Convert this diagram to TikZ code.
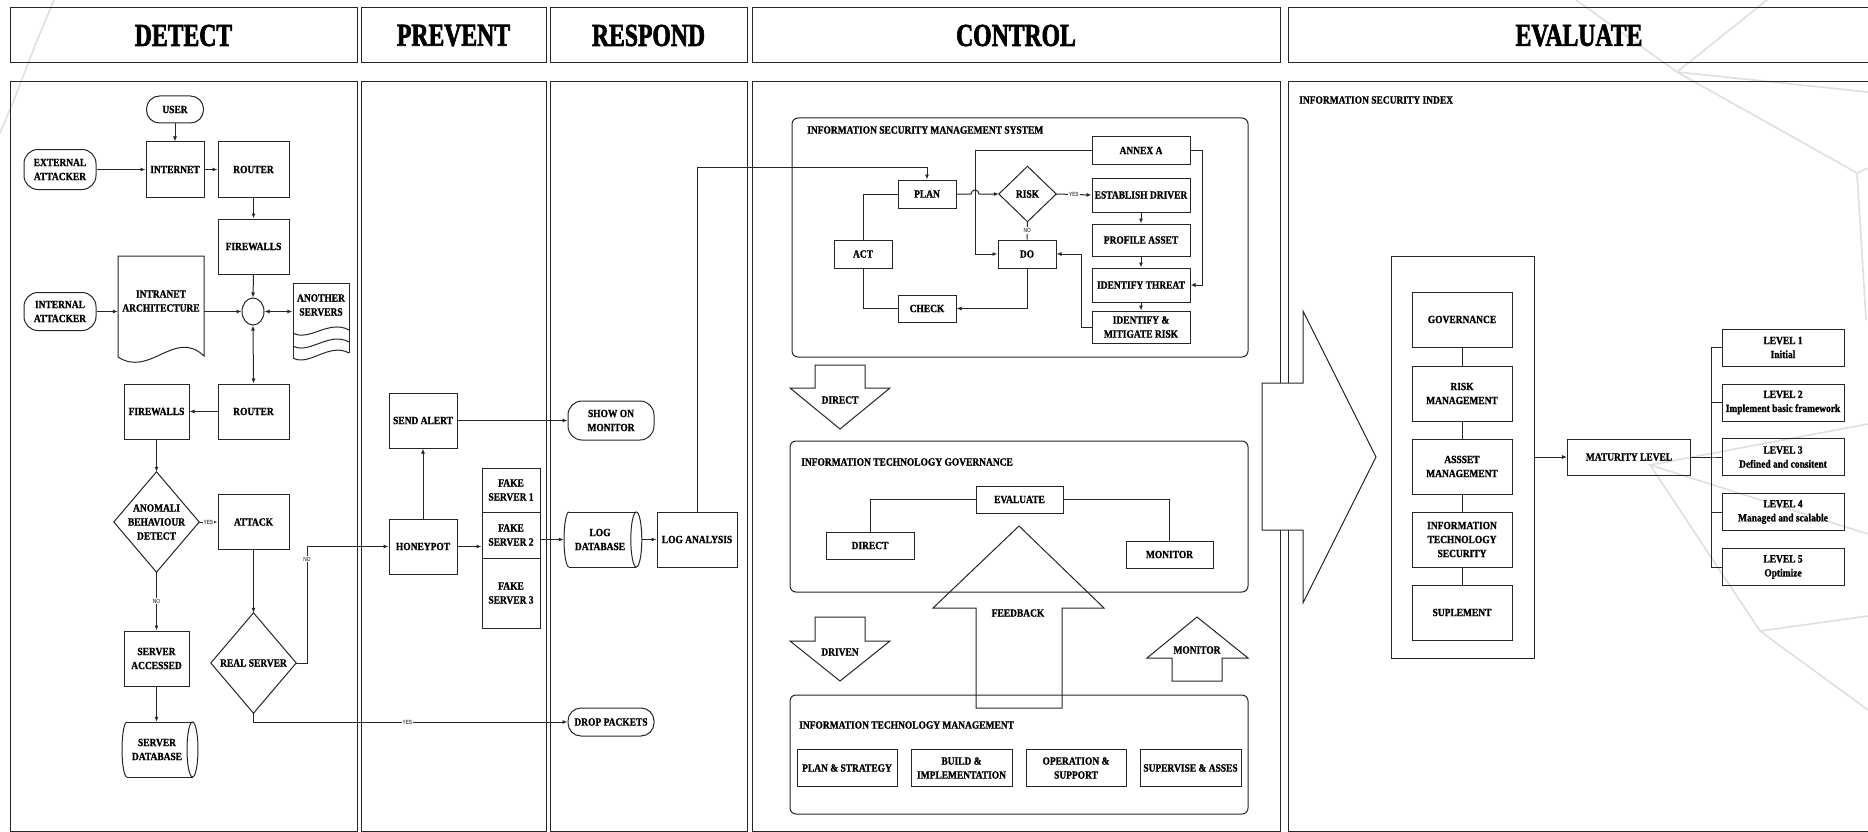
\documentclass[tikz,border=0pt]{standalone}
\usepackage{fontspec}
\setmainfont{Liberation Serif}[BoldFont={Liberation Serif Bold}, FakeStretch=0.86]
\newfontfamily\hdfont{Liberation Serif Bold}[FakeStretch=0.74, FakeBold=2]
\newfontfamily\nbfont{Liberation Serif Bold}[FakeStretch=0.86, FakeBold=1.2]
\newfontfamily\tagfont{Liberation Sans}[FakeStretch=0.8]
\usetikzlibrary{arrows.meta,shapes.geometric}
\tikzset{
  ink/.style={draw=black!85, line width=1pt},
  nfont/.style={font=\nbfont\fontsize{11}{14}\selectfont},
  bx/.style 2 args={ink, rectangle, inner sep=0pt, align=center, minimum width=#1, minimum height=#2, nfont},
  pill/.style 2 args={bx={#1}{#2}, rounded corners=14pt},
  frm/.style 2 args={rectangle, inner sep=0pt, align=center, minimum width=#1, minimum height=#2, nfont},
  txt/.style={inner sep=0pt, align=center, nfont},
  ttl/.style={anchor=west, inner sep=0pt, nfont},
  hdr/.style={ink, inner sep=0pt, minimum height=55, font=\hdfont\fontsize{32}{36}\selectfont},
  arr/.style={ink, -{Latex[length=5pt,width=4pt]}},
  darr/.style={ink, {Latex[length=5pt,width=4pt]}-{Latex[length=5pt,width=4pt]}},
  con/.style={ink},
  tag/.style={fill=white, inner sep=1pt, font=\tagfont\fontsize{6}{7}\selectfont},
  net/.style={draw=gray!25, line width=1.6pt, line cap=round},
}
\begin{document}
\begin{tikzpicture}[x=1pt,y=-1pt]
\useasboundingbox (0,0) rectangle (1868,832);
\clip (0,0) rectangle (1868,832);
\fill[white] (0,0) rectangle (1868,832);

% faint network drawn behind everything
\draw[net] (54,0) -- (36,43) -- (14,100) -- (0,133);
\draw[net] (1576,0) -- (1677,72) -- (1767,0);
\draw[net] (1677,72) -- (1868,92);
\draw[net] (1677,72) -- (1857,173) -- (1866,320);
\draw[net] (1857,173) -- (1868,168);
\draw[net] (1868,424) -- (1650,465) -- (1868,534);
\draw[net] (1650,465) -- (1760,631) -- (1868,616);
\draw[net] (1760,631) -- (1868,710);

% ---------- swimlane headers ----------
\node[hdr, minimum width=347] (hDetect)  at (183.5,35.5) {DETECT};
\node[hdr, minimum width=185] (hPrevent) at (453.5,35.5) {PREVENT};
\node[hdr, minimum width=197] (hRespond) at (648.5,35.5) {RESPOND};
\node[hdr, minimum width=528] (hControl) at (1016,35.5) {CONTROL};
\node[hdr, minimum width=582] (hEval)    at (1579,35.5) {EVALUATE};

% ---------- swimlane bodies ----------
\draw[ink] (10,82) rectangle (357,831);
\draw[ink] (361,82) rectangle (546,831);
\draw[ink] (550,82) rectangle (747,831);
\draw[ink] (752,82) rectangle (1280,831);
\draw[ink] (1288,82) rectangle (1872,831);

% ================= DETECT =================
\node[pill={57}{27}, rounded corners=13pt] (user) at (175,109.5) {USER};
\node[pill={72}{40}] (extatk) at (60,169.5) {EXTERNAL\\ATTACKER};
\node[bx={58}{55}] (internet) at (175,169.5) {INTERNET};
\node[bx={71}{55}] (router1) at (253.5,169.5) {ROUTER};
\node[bx={71}{55}] (fw1) at (253.5,246.5) {FIREWALLS};
\node[ink, ellipse, inner sep=0pt, minimum width=22, minimum height=27] (hub) at (253,311.5) {};
\node[pill={72}{38}] (intatk) at (60,311.5) {INTERNAL\\ATTACKER};

% intranet: document shape
\node[frm={86}{111}] (intra) at (161,311.5) {};
\draw[ink] (118,256) -- (204,256) -- (204,356) .. controls (175,328) and (150,378) .. (118,357) -- cycle;
\node[txt] (intraT) at (161,301) {INTRANET\\ARCHITECTURE};

% other servers: stacked documents
\node[frm={57}{77}] (aserv) at (321,321.5) {};
\draw[ink] (293,358) -- (293,283) -- (349,283) -- (349,353);
\foreach \yl/\yr in {333/330, 346/342, 358/353}
  \draw[ink] (293,\yl) .. controls (309,\yl+9) and (329,\yr-11) .. (349,\yr);
\node[txt] (aservT) at (321,305) {ANOTHER\\SERVERS};

\node[bx={71}{55}] (router2) at (253.5,411.5) {ROUTER};
\node[bx={65}{55}] (fw2) at (156.5,411.5) {FIREWALLS};

\node[frm={85}{100}] (anomali) at (156.5,522) {ANOMALI\\BEHAVIOUR\\DETECT};
\draw[ink] (anomali.north) -- (anomali.east) -- (anomali.south) -- (anomali.west) -- cycle;
\node[bx={71}{55}] (attack) at (253.5,522) {ATTACK};
\node[bx={65}{55}] (saccess) at (156.5,658.5) {SERVER\\ACCESSED};

% server database: horizontal drum
\node[frm={76}{55}] (sdb) at (160,749.5) {};
\draw[ink] (127,722) -- (192.5,722) (127,777) -- (192.5,777);
\draw[ink] (192.5,749.5) ellipse[x radius=5.5, y radius=27.5];
\draw[ink] (127,722) arc[start angle=270, end angle=90, x radius=5, y radius=27.5];
\node[txt] (sdbT) at (157,749.5) {SERVER\\DATABASE};

\node[frm={85}{100}] (realsrv) at (253.5,663) {REAL SERVER};
\draw[ink] (realsrv.north) -- (realsrv.east) -- (realsrv.south) -- (realsrv.west) -- cycle;

% ================= PREVENT =================
\node[bx={68}{55}] (sendalert) at (423,420.5) {SEND ALERT};
\node[bx={68}{55}] (honeypot) at (423,546.5) {HONEYPOT};
\node[bx={58}{44}] (fs1) at (511,490) {FAKE\\SERVER 1};
\node[bx={58}{46}] (fs2) at (511,535) {FAKE\\SERVER 2};
\node[bx={58}{70}] (fs3) at (511,593) {FAKE\\SERVER 3};

% ================= RESPOND =================
\node[pill={86}{39}] (show) at (611,420.5) {SHOW ON\\MONITOR};
\node[frm={78}{55}] (logdb) at (603,539.5) {};
\draw[ink] (569,512) -- (636.3,512) (569,567) -- (636.3,567);
\draw[ink] (636.3,539.5) ellipse[x radius=5.5, y radius=27.5];
\draw[ink] (569,512) arc[start angle=270, end angle=90, x radius=5, y radius=27.5];
\node[txt] (logdbT) at (600,539.5) {LOG\\DATABASE};
\node[bx={80}{55}] (loga) at (697,539.5) {LOG ANALYSIS};
\node[pill={86}{28}, rounded corners=13pt] (drop) at (611,722) {DROP PACKETS};

% ================= CONTROL =================
% information security management system
\node[ink, rounded corners=6pt, minimum width=456, minimum height=239] (isms) at (1020,237.5) {};
\node[ttl] (ismsT) at (807,130) {INFORMATION SECURITY MANAGEMENT SYSTEM};
\node[bx={58}{28}] (plan) at (927,194) {PLAN};
\node[bx={58}{28}] (act) at (863,254) {ACT};
\node[bx={58}{27}] (check) at (927,308.5) {CHECK};
\node[bx={58}{28}] (do) at (1027,254) {DO};
\node[frm={57}{55}] (risk) at (1027.5,194) {RISK};
\draw[ink] (risk.north) -- (risk.east) -- (risk.south) -- (risk.west) -- cycle;
\node[bx={98}{27}] (annex) at (1141,150.5) {ANNEX A};
\node[bx={98}{34}] (estab) at (1141,195) {ESTABLISH DRIVER};
\node[bx={98}{32}] (profile) at (1141,240) {PROFILE ASSET};
\node[bx={98}{34}] (ithreat) at (1141,285) {IDENTIFY THREAT};
\node[bx={98}{32}] (imitig) at (1141,327) {IDENTIFY \&\\MITIGATE RISK};

% direct arrow
\draw[ink] (815,365) -- (865,365) -- (865,388) -- (890,388) -- (840,429) -- (790,388) -- (815,388) -- cycle;
\node[txt] (directA) at (840,400) {DIRECT};

% information technology governance
\node[ink, rounded corners=6pt, minimum width=458, minimum height=151] (itg) at (1019,516.5) {};
\node[ttl] (itgT) at (801,462) {INFORMATION TECHNOLOGY GOVERNANCE};
\node[bx={87}{27}] (evaluate) at (1019.5,499.5) {EVALUATE};
\node[bx={88}{27}] (direct) at (870,545.5) {DIRECT};
\node[bx={87}{27}] (monitor) at (1169.5,554.5) {MONITOR};

% feedback, driven and monitor arrows
\draw[ink] (976,708) -- (976,608) -- (933,608) -- (1019,526) -- (1104,608) -- (1062,608) -- (1062,708) -- cycle;
\node[txt] (feedbackA) at (1018,613) {FEEDBACK};
\draw[ink] (815,617) -- (865,617) -- (865,641) -- (890,641) -- (840,681) -- (790,641) -- (815,641) -- cycle;
\node[txt] (drivenA) at (840,652) {DRIVEN};
\draw[ink] (1172,681) -- (1172,658) -- (1147,658) -- (1197,617) -- (1248,658) -- (1222,658) -- (1222,681) -- cycle;
\node[txt] (monitorA) at (1197,650) {MONITOR};

% information technology management
\node[ink, rounded corners=6pt, minimum width=458, minimum height=119] (itm) at (1019,754.5) {};
\node[ttl] (itmT) at (799,725) {INFORMATION TECHNOLOGY MANAGEMENT};
\node[bx={100}{37}] (pstrat) at (847,768) {PLAN \& STRATEGY};
\node[bx={101}{37}] (build) at (961.5,768) {BUILD \&\\IMPLEMENTATION};
\node[bx={100}{37}] (oper) at (1076,768) {OPERATION \&\\SUPPORT};
\node[bx={101}{37}] (superv) at (1190.5,768) {SUPERVISE \& ASSES};

% big arrow into the evaluation lane
\draw[ink, fill=white] (1262,383) -- (1303,383) -- (1303,311) -- (1376,457) -- (1303,603) -- (1303,530) -- (1262,530) -- cycle;

% ================= EVALUATE =================
\node[ttl] (isiT) at (1299,100) {INFORMATION SECURITY INDEX};
\node[ink, minimum width=143, minimum height=402] (frame) at (1462.5,457) {};
\node[bx={100}{55}] (gov) at (1462,319.5) {GOVERNANCE};
\node[bx={100}{55}] (riskm) at (1462,393.5) {RISK\\MANAGEMENT};
\node[bx={100}{55}] (asset) at (1462,466.5) {ASSSET\\MANAGEMENT};
\node[bx={100}{55}] (its) at (1462,539.5) {INFORMATION\\TECHNOLOGY\\SECURITY};
\node[bx={100}{55}] (supl) at (1462,612.5) {SUPLEMENT};
\node[bx={123}{36}] (matur) at (1629,457) {MATURITY LEVEL};
\node[bx={122}{37}] (lv1) at (1783,347.5) {LEVEL 1\\Initial};
\node[bx={122}{37}] (lv2) at (1783,402.5) {LEVEL 2\\Implement basic framework};
\node[bx={122}{37}] (lv3) at (1783,457) {LEVEL 3\\Defined and consitent};
\node[bx={122}{37}] (lv4) at (1783,512) {LEVEL 4\\Managed and scalable};
\node[bx={122}{37}] (lv5) at (1783,567) {LEVEL 5\\Optimize};

% ================= connectors =================
% detect
\draw[arr] (user) -- (internet);
\draw[arr] (extatk.east) -- (extatk.east -| internet.west);
\draw[arr] (internet) -- (router1);
\draw[arr] (router1) -- (fw1);
\draw[arr] (fw1.south) -- (hub.north);
\draw[arr] (intatk.east) -- (intatk.east -| intra.west);
\draw[arr] (intra.east) -- (hub.west);
\draw[darr] (hub.east) -- (hub.east -| aserv.west);
\draw[darr] (hub.south) -- (router2.north);
\draw[arr] (router2) -- (fw2);
\draw[arr] (fw2.south) -- (anomali.north);
\draw[arr] (anomali.east) -- node[tag]{YES} (attack.west);
\draw[arr] (anomali.south) -- node[tag]{NO} (saccess.north);
\draw[arr] (saccess.south) -- (saccess.south |- sdb.north);
\draw[arr] (attack.south) -- (realsrv.north);
\draw[arr] (realsrv.east) -- (307,663) -- node[tag,pos=0.89]{NO} (307,546.5) -- (honeypot.west);
\draw[arr] (realsrv.south) -- (253.5,722) -- node[tag,pos=0.49]{YES} (drop.west);

% prevent / respond
\draw[arr] (honeypot.north) -- (sendalert.south);
\draw[arr] (honeypot.east) -- (honeypot.east -| fs2.west);
\draw[arr] (sendalert.east) -- (show.west);
\draw[arr] (fs2.east |- logdb.west) -- (logdb.west);
\draw[arr] (logdb.east) -- (loga.west);
\draw[arr] (loga.north) -- (697,167) -| (plan.north);

% control
\draw[arr] (plan.east) -- (971,194) arc[start angle=180, end angle=360, radius=4] -- (risk.west);
\draw[arr] (annex.west) -- (975,150.5) |- (do.west);
\draw[arr] (annex.east) -- (1202,150.5) |- (ithreat.east);
\draw[arr] (risk.east) -- node[tag]{YES} (estab.west);
\draw[con] (risk.south) -- node[tag]{NO} (do.north);
\draw[arr] (estab) -- (profile);
\draw[arr] (profile) -- (ithreat);
\draw[arr] (ithreat) -- (imitig);
\draw[arr] (imitig.west) -- (1081,327) |- (do.east);
\draw[arr] (do.south) |- (check.east);
\draw[con] (check.west) -| (act.south);
\draw[con] (act.north) |- (plan.west);
\draw[con] (evaluate.west) -| (direct.north);
\draw[con] (evaluate.east) -| (monitor.north);

% evaluate
\draw[con] (gov) -- (riskm);
\draw[con] (riskm) -- (asset);
\draw[con] (asset) -- (its);
\draw[con] (its) -- (supl);
\draw[arr] (frame.east) -- (matur.west);
\foreach \lv in {lv1,lv2,lv3,lv4,lv5}
  \draw[con] (matur.east) -- (1711,457) |- (\lv.west);
\end{tikzpicture}
\end{document}
